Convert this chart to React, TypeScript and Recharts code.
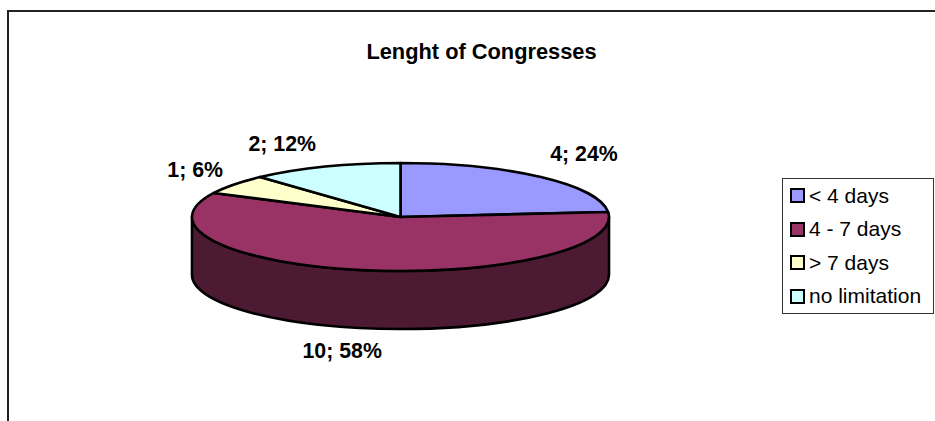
import React from 'react';
import { PieChart, Pie, Legend } from 'recharts';

const categories = ['< 4 days', '4 - 7 days', '> 7 days', 'no limitation'];
const counts = [4, 10, 1, 2];
const percents = [24, 58, 6, 12];
const topColors = ['#9999ff', '#993366', '#ffffcc', '#ccffff'];

const rows = categories.map((name, i) => ({
    name,
    value: counts[i],
    percent: percents[i],
    fill: topColors[i],
}));

const FONT = '"Liberation Sans", Arial, sans-serif';
const CX = 400.5;
const CY = 217;
const RX = 208.5;
const RY = 54;
const DEPTH = 58;
const WALL_COLOR = '#4d1a33';
const EDGE = 2.6;
// label nudges from the rim of each slice's middle angle
const labelNudge = [
    [43, -23],
    [-20, 81],
    [-39, -14],
    [-43, -23],
];

const rim = (deg: number, dy = 0) => {
    const a = (deg * Math.PI) / 180;
    return [CX + RX * Math.cos(a), CY - RY * Math.sin(a) + dy];
};

const TiltedSlice = (props: any) => {
    const { startAngle, endAngle, fill } = props;
    const [sx, sy] = rim(startAngle);
    const [ex, ey] = rim(endAngle);
    const large = Math.abs(startAngle - endAngle) > 180 ? 1 : 0;
    // the side wall only shows on the front half of the disc
    const from = Math.min(startAngle, 0);
    const to = Math.max(endAngle, -180);
    let wall = null;
    if (from > to) {
        const [ax, ay] = rim(from);
        const [bx, by] = rim(to);
        const [cx2, cy2] = rim(to, DEPTH);
        const [dx, dy] = rim(from, DEPTH);
        wall = (
            <path
                d={`M${ax},${ay} A${RX},${RY} 0 0 1 ${bx},${by} L${cx2},${cy2} A${RX},${RY} 0 0 0 ${dx},${dy} Z`}
                fill={WALL_COLOR}
                stroke="#000"
                strokeWidth={EDGE}
                strokeLinejoin="round"
            />
        );
    }
    return (
        <g>
            {wall}
            <path
                d={`M${CX},${CY} L${sx},${sy} A${RX},${RY} 0 ${large} 1 ${ex},${ey} Z`}
                fill={fill}
                stroke="#000"
                strokeWidth={EDGE}
                strokeLinejoin="round"
            />
        </g>
    );
};

const SliceLabel = (props: any) => {
    const { index, midAngle } = props;
    const [x, y] = rim(midAngle);
    return (
        <text
            x={x + labelNudge[index][0]}
            y={y + labelNudge[index][1]}
            textAnchor="middle"
            dominantBaseline="central"
            fontFamily={FONT}
            fontWeight="bold"
            fontSize={21.3}
            fill="#000"
        >
            {`${counts[index]}; ${percents[index]}%`}
        </text>
    );
};

const LegendBox = ({ payload }: any) => (
    <div
        style={{
            boxSizing: 'border-box',
            width: 152,
            height: 136,
            border: '1px solid #333',
            padding: '0 0 0 7px',
            fontFamily: FONT,
            fontSize: 21,
            color: '#000',
            background: '#fff',
        }}
    >
        {(payload || []).map((entry: any) => (
            <div key={entry.value} style={{ display: 'flex', alignItems: 'center', height: 33.5 }}>
                <span
                    style={{
                        boxSizing: 'border-box',
                        width: 15,
                        height: 15,
                        border: '2.5px solid #000',
                        background: entry.color,
                        marginRight: 4,
                    }}
                />
                {entry.value}
            </div>
        ))}
    </div>
);

export default function App() {
    return (
        <div style={{ position: 'fixed', left: 0, top: 0, width: 935, height: 421, background: '#fff', overflow: 'hidden' }}>
            <div
                style={{
                    position: 'absolute',
                    left: 7,
                    top: 10,
                    width: 940,
                    height: 420,
                    borderLeft: '2px solid #222',
                    borderTop: '2px solid #222',
                }}
            />
            <div style={{ position: 'absolute', left: 0, top: 0 }}>
                <PieChart width={935} height={421} margin={{ top: 0, right: 0, bottom: 0, left: 0 }}>
                    <text
                        x={481.5}
                        y={51}
                        textAnchor="middle"
                        dominantBaseline="central"
                        fontFamily={FONT}
                        fontWeight="bold"
                        fontSize={21.8}
                        fill="#000"
                    >
                        Lenght of Congresses
                    </text>
                    <Pie
                        data={rows}
                        dataKey="value"
                        nameKey="name"
                        cx={CX}
                        cy={CY}
                        innerRadius={0}
                        outerRadius={RX}
                        startAngle={90}
                        endAngle={-270}
                        shape={TiltedSlice}
                        label={SliceLabel}
                        labelLine={false}
                        isAnimationActive={false}
                    />
                    <Legend
                        content={LegendBox}
                        layout="vertical"
                        itemSorter={null}
                        wrapperStyle={{ position: 'absolute', left: 782, top: 178, width: 152, height: 136, bottom: 'auto' }}
                    />
                </PieChart>
            </div>
        </div>
    );
}
